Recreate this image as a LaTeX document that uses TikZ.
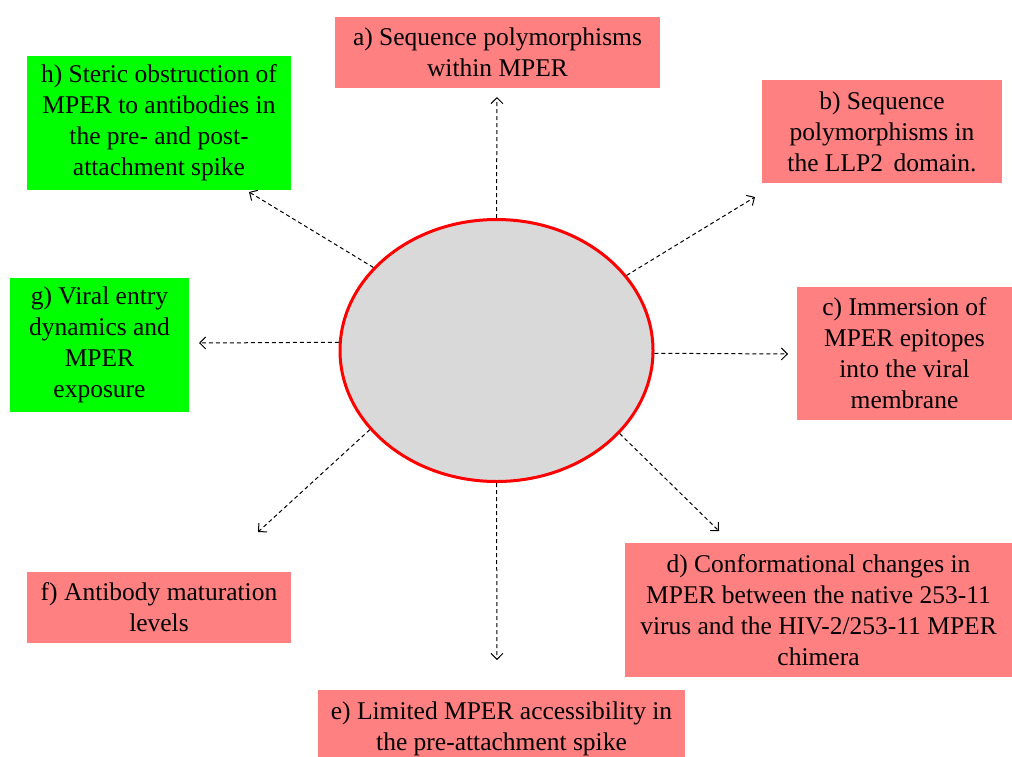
\documentclass[tikz,border=0pt]{standalone}
\usepackage{fontspec}
\setmainfont{Liberation Serif}
\usetikzlibrary{shapes.geometric,arrows.meta}
\definecolor{boxpink}{HTML}{FF8080}
\definecolor{boxgreen}{HTML}{00FF00}
\definecolor{ellgray}{HTML}{D9D9D9}
\begin{document}
\begin{tikzpicture}[x=0.5pt,y=-0.5pt,
  box/.style={rectangle,inner sep=0pt,align=center,font=\fontsize{12.75}{15.5}\selectfont},
  pinkbox/.style={box,fill=boxpink},
  greenbox/.style={box,fill=boxgreen},
  arr/.style={-{Straight Barb[length=3pt,width=6pt]},line width=0.5pt,dash pattern=on 2pt off 1.5pt}]
\useasboundingbox (0,0) rectangle (1012,756);
\node[ellipse,draw=red,line width=1.5pt,fill=ellgray,inner sep=0pt,minimum width=156.5pt,minimum height=131pt] (E) at (496.5,350.5) {};

\node[pinkbox,minimum width=162.5pt,minimum height=35.5pt] (a) at (497.5,52.5) {a) Sequence polymorphisms\\within MPER};
\node[pinkbox,minimum width=120pt,minimum height=51.5pt] (b) at (882,131.5) {b) Sequence\\polymorphisms in\\the LLP2\, domain.};
\node[pinkbox,minimum width=107.5pt,minimum height=66.5pt] (c) at (904.5,353.5) {c) Immersion of\\MPER epitopes\\into the viral\\membrane};
\node[pinkbox,minimum width=193.5pt,minimum height=67pt] (d) at (818.5,610) {d) Conformational changes in\\MPER between the native 253-11\\virus and the HIV-2/253-11 MPER\\chimera};
\node[pinkbox,minimum width=183.5pt,minimum height=39pt] (e) at (501.5,729) {e) Limited MPER accessibility in\\the pre-attachment spike};
\node[pinkbox,minimum width=132pt,minimum height=35.5pt] (f) at (159,607.5) {f) Antibody maturation\\levels};
\node[greenbox,minimum width=89.5pt,minimum height=67pt] (g) at (99.5,345) {g) Viral entry\\dynamics and\\MPER\\exposure};
\node[greenbox,minimum width=132pt,minimum height=67pt] (h) at (159,123) {h) Steric obstruction of\\MPER to antibodies in\\the pre- and post-\\attachment spike};

\coordinate (ea) at (497,97);
\coordinate (eb) at (755,197);
\coordinate (ec) at (788,354);
\coordinate (ed) at (719,531);
\coordinate (ee) at (497,660);
\coordinate (ef) at (258,532);
\coordinate (eg) at (199,343);
\coordinate (eh) at (249,192);

\draw[arr] (E.90) -- (ea);
\draw[arr] (E.30.6) -- (eb);
\draw[arr] (E.-1.3) -- (ec);
\draw[arr] (E.-34.5) -- (ed);
\draw[arr] (E.270) -- (ee);
\draw[arr] (E.212.7) -- (ef);
\draw[arr] (E.177.3) -- (eg);
\draw[arr] (E.146.6) -- (eh);
\end{tikzpicture}
\end{document}
